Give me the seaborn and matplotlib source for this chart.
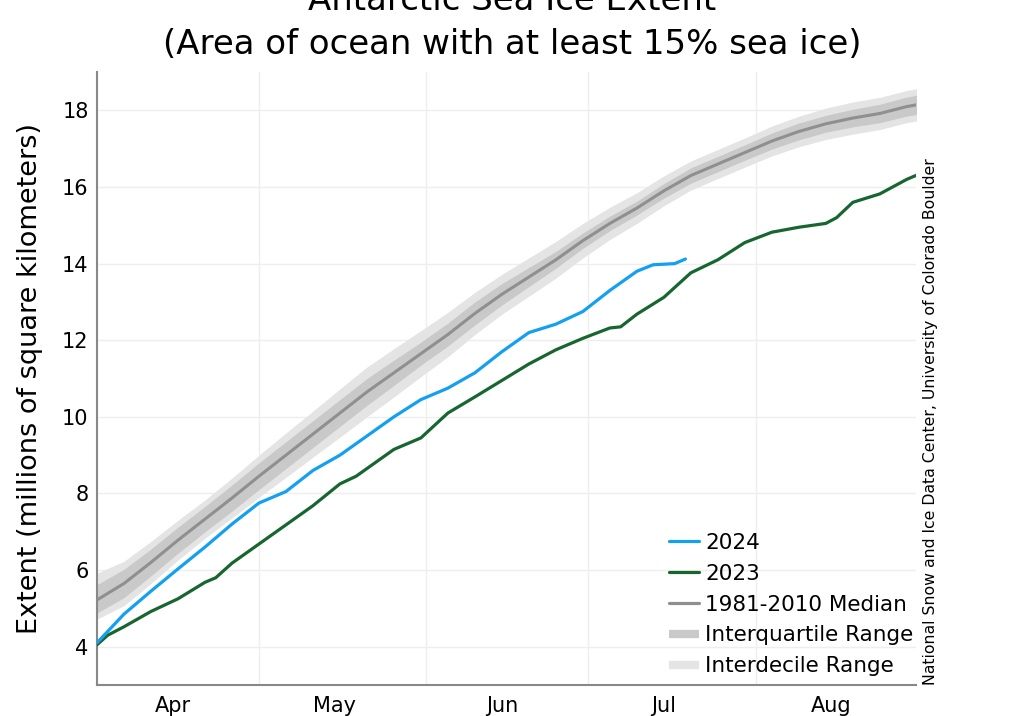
import numpy as np
import pandas as pd
import matplotlib
matplotlib.use("Agg")
import matplotlib.pyplot as plt
from matplotlib.lines import Line2D
import seaborn as sns

# x values are days after April 1
month_names = ["Apr", "May", "Jun", "Jul", "Aug"]
month_starts = [0, 30, 61, 91, 122]

clim_days = [0, 5, 10, 15, 20, 25, 30, 35, 40, 45, 50, 55, 60, 65, 70, 75,
             80, 85, 90, 95, 100, 105, 110, 115, 120, 125, 130, 135, 140, 145, 150, 152]
median = [5.22, 5.65, 6.2, 6.78, 7.33, 7.88, 8.45, 9.0, 9.55, 10.1, 10.65, 11.15,
          11.65, 12.15, 12.7, 13.2, 13.65, 14.1, 14.6, 15.05, 15.45, 15.9, 16.3,
          16.6, 16.9, 17.2, 17.45, 17.65, 17.8, 17.92, 18.1, 18.15]
iqr_lo = [4.88, 5.28, 5.85, 6.44, 7.0, 7.54, 8.1, 8.65, 9.2, 9.75, 10.3, 10.82,
          11.35, 11.85, 12.4, 12.92, 13.4, 13.88, 14.4, 14.86, 15.27, 15.71, 16.1,
          16.4, 16.7, 16.99, 17.23, 17.43, 17.57, 17.68, 17.85, 17.9]
iqr_hi = [5.62, 6.02, 6.55, 7.12, 7.66, 8.22, 8.8, 9.35, 9.9, 10.45, 11.0, 11.48,
          11.95, 12.45, 13.0, 13.48, 13.9, 14.32, 14.8, 15.24, 15.63, 16.09, 16.5,
          16.8, 17.1, 17.41, 17.67, 17.87, 18.03, 18.16, 18.35, 18.4]
idr_lo = [4.72, 5.07, 5.65, 6.26, 6.83, 7.36, 7.9, 8.42, 8.95, 9.47, 10.0, 10.52,
          11.05, 11.57, 12.15, 12.68, 13.15, 13.62, 14.15, 14.63, 15.05, 15.51, 15.92,
          16.22, 16.52, 16.81, 17.05, 17.24, 17.38, 17.5, 17.68, 17.73]
idr_hi = [5.92, 6.23, 6.75, 7.3, 7.83, 8.4, 9.0, 9.58, 10.15, 10.73, 11.3, 11.78,
          12.25, 12.73, 13.25, 13.72, 14.15, 14.58, 15.05, 15.47, 15.85, 16.29, 16.68,
          16.98, 17.28, 17.59, 17.85, 18.06, 18.22, 18.34, 18.52, 18.57]

days_2024 = [0, 2, 5, 10, 15, 20, 25, 30, 35, 40, 45, 50, 55, 60, 65, 70, 75,
             80, 85, 90, 95, 100, 103, 107, 109]
ext_2024 = [4.1, 4.4, 4.85, 5.45, 6.03, 6.6, 7.2, 7.75, 8.05, 8.6, 9.0, 9.5, 10.0,
            10.45, 10.75, 11.15, 11.7, 12.2, 12.42, 12.75, 13.3, 13.8, 13.97, 14.0, 14.12]

days_2023 = [0, 2, 5, 10, 15, 20, 22, 25, 30, 35, 40, 45, 48, 50, 55, 60, 65, 70,
             75, 80, 85, 90, 95, 97, 100, 105, 110, 115, 120, 125, 130, 135, 137,
             140, 145, 150, 152]
ext_2023 = [4.05, 4.3, 4.52, 4.92, 5.25, 5.68, 5.8, 6.18, 6.68, 7.18, 7.68, 8.25,
            8.45, 8.65, 9.15, 9.45, 10.1, 10.52, 10.95, 11.38, 11.75, 12.05, 12.32,
            12.35, 12.68, 13.12, 13.76, 14.1, 14.55, 14.82, 14.95, 15.05, 15.2,
            15.6, 15.82, 16.2, 16.32]

c2024 = "#14a0f0"
c2023 = "#17662f"
cmed = "#8f8f8f"
ciqr = "#c9c9c9"
cidr = "#e4e4e4"

sns.set_theme(style="white")
plt.rcParams["font.family"] = ["DejaVu Sans"]
plt.rcParams["text.color"] = "black"
plt.rcParams["axes.labelcolor"] = "black"

fig = plt.figure(figsize=(10.24, 7.16), dpi=100)
ax = fig.add_axes([0.0947, 0.0433, 0.7998, 0.856])

ax.fill_between(clim_days, idr_lo, idr_hi, color=cidr, lw=0, zorder=1)
ax.fill_between(clim_days, iqr_lo, iqr_hi, color=ciqr, lw=0, zorder=2)
sns.lineplot(x=clim_days, y=median, ax=ax, color=cmed, lw=2.2, zorder=3)
sns.lineplot(x=days_2023, y=ext_2023, ax=ax, color=c2023, lw=2.3, zorder=4)
sns.lineplot(x=days_2024, y=ext_2024, ax=ax, color=c2024, lw=2.3, zorder=5)

ax.set_xlim(0, 151.7)
ax.set_ylim(3, 19)
ax.set_yticks(range(4, 19, 2))
ax.set_xticks(month_starts[1:])
ax.set_xticklabels([])
ax.set_xticks([m + 14 for m in month_starts], minor=True)
ax.set_xticklabels(month_names, minor=True)
ax.tick_params(axis="x", which="major", direction="in", length=5, width=1.2, color="#888888")
ax.tick_params(axis="x", which="minor", length=0, labelsize=15, pad=8, labelcolor="black")
ax.tick_params(axis="y", length=0, labelsize=15, pad=6, labelcolor="black")
ax.grid(True, which="major", color="#eeeeee", lw=1)
ax.set_axisbelow(True)

for s in ["top", "right"]:
    ax.spines[s].set_visible(False)
for s in ["left", "bottom"]:
    ax.spines[s].set_color("#888888")
    ax.spines[s].set_linewidth(1.5)

ax.set_ylabel("Extent (millions of square kilometers)", fontsize=19.5, labelpad=14)
ax.set_xlabel("")

fig.text(0.5, 1.0, "Antarctic Sea Ice Extent", ha="center", va="center", fontsize=24.5)
fig.text(0.5, 0.938, "(Area of ocean with at least 15% sea ice)", ha="center",
         va="center", fontsize=24.5)
fig.text(0.909, 0.411, "National Snow and Ice Data Center, University of Colorado Boulder",
         rotation=90, ha="center", va="center", fontsize=11.3)

handles = [Line2D([], [], color=c2024, lw=2.3),
           Line2D([], [], color=c2023, lw=2.3),
           Line2D([], [], color=cmed, lw=2.3),
           Line2D([], [], color=ciqr, lw=6, solid_capstyle="butt"),
           Line2D([], [], color=cidr, lw=6, solid_capstyle="butt")]
labels = ["2024", "2023", "1981-2010 Median", "Interquartile Range", "Interdecile Range"]
ax.legend(handles, labels, loc="upper left", bbox_to_anchor=(0.698, 0.248),
          frameon=False, fontsize=15.5, handlelength=1.4, handletextpad=0.3,
          labelspacing=0.5, borderaxespad=0, borderpad=0)

fig.savefig("out.png", dpi=100)
